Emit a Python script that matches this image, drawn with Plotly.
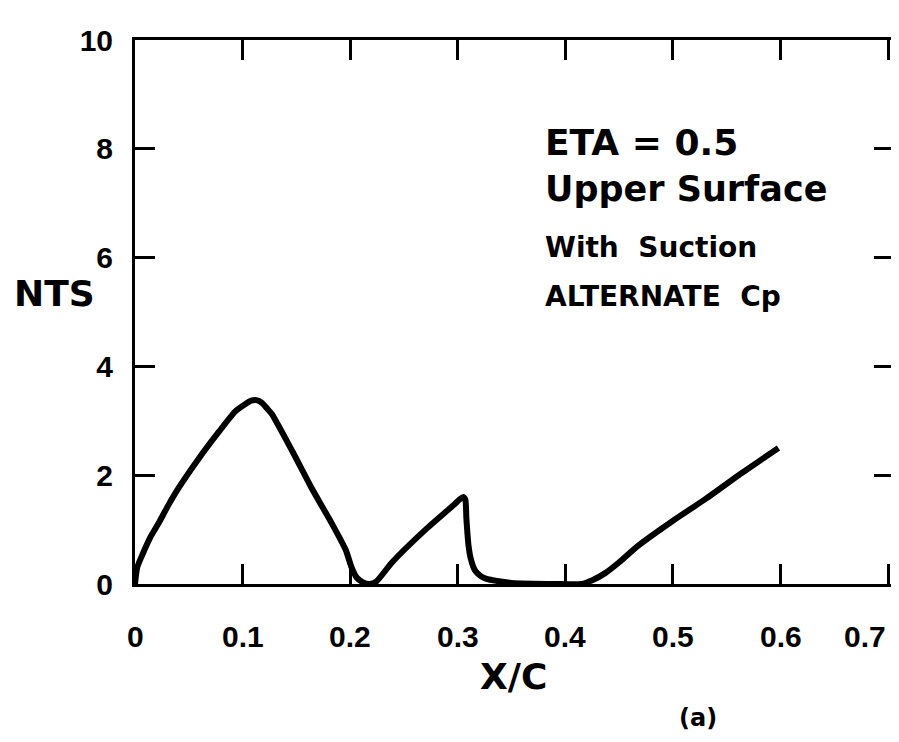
import plotly.graph_objects as go

# NTS vs X/C, upper surface, ETA = 0.5
xc = [0.0, 0.002, 0.006, 0.014, 0.022, 0.031, 0.041, 0.059, 0.078, 0.093,
      0.102, 0.108, 0.113, 0.118, 0.123, 0.127, 0.146, 0.164, 0.183, 0.196,
      0.201, 0.206, 0.212, 0.218, 0.224, 0.239, 0.270, 0.296, 0.302, 0.305,
      0.307, 0.308, 0.310, 0.312, 0.316, 0.321, 0.326, 0.338, 0.350, 0.391,
      0.415, 0.425, 0.437, 0.450, 0.468, 0.499, 0.530, 0.561, 0.598]
nts = [0.0, 0.3, 0.5, 0.85, 1.12, 1.45, 1.78, 2.3, 2.8, 3.17,
       3.3, 3.37, 3.38, 3.33, 3.22, 3.13, 2.45, 1.77, 1.11, 0.62,
       0.32, 0.12, 0.03, 0.0, 0.04, 0.4, 1.0, 1.45, 1.56, 1.6,
       1.55, 1.2, 0.7, 0.47, 0.25, 0.15, 0.1, 0.05, 0.02, 0.0,
       0.0, 0.07, 0.2, 0.4, 0.71, 1.15, 1.56, 2.0, 2.5]

xticks = [0, 0.1, 0.2, 0.3, 0.4, 0.5, 0.6, 0.7]
xlabels = ['0', '0.1', '0.2', '0.3', '0.4', '0.5', '0.6', '0.7']
yticks = [0, 2, 4, 6, 8, 10]

notes = ['ETA = 0.5', 'Upper Surface', 'With  Suction', 'ALTERNATE  Cp']
note_y = [8.12, 7.26, 6.18, 5.29]
note_size = [36, 35, 28, 28]

FONT = 'DejaVu Sans'
TICKFONT = 'Liberation Sans'

W, H = 899, 742
L, R, T, B = 127, 13, 32, 166

fig = go.Figure()
fig.add_trace(go.Scatter(x=xc, y=nts, mode='lines',
                         line=dict(color='black', width=6, shape='spline', smoothing=0.6),
                         showlegend=False))

tickfont = dict(family=TICKFONT, size=30, color='black', weight='bold')
axis_common = dict(showline=True, linecolor='black', linewidth=3, mirror='allticks',
                   ticks='inside', ticklen=20, tickwidth=3, tickcolor='black',
                   showgrid=False, zeroline=False, automargin=False,
                   tickfont=tickfont)

fig.update_xaxes(range=[0, 0.7054], tickvals=xticks, showticklabels=False,
                 **axis_common)
fig.update_yaxes(range=[0, 10], tickvals=yticks, ticklabelstandoff=13,
                 **axis_common)

# x tick labels (last one kept inside the page, as in the original)
lab_y = (H - B - 628) / (H - T - B)
for v, s in zip(xticks, xlabels):
    fig.add_annotation(x=v, y=lab_y, xref='x', yref='paper', text='<b>%s</b>' % s,
                       showarrow=False, yanchor='middle',
                       xanchor='right' if v == xticks[-1] else 'center',
                       font=tickfont)

for t, yy, sz in zip(notes, note_y, note_size):
    fig.add_annotation(x=0.379, y=yy, xref='x', yref='y', text='<b>%s</b>' % t,
                       showarrow=False, xanchor='left', yanchor='middle',
                       font=dict(family=FONT, size=sz, color='black'))


def px_note(text, px, py, size):
    fig.add_annotation(x=(px - L) / (W - L - R), y=(H - B - py) / (H - T - B),
                       xref='paper', yref='paper', text='<b>%s</b>' % text,
                       showarrow=False, xanchor='center', yanchor='middle',
                       font=dict(family=FONT, size=size, color='black'))


px_note('NTS', 46, 285, 36)
px_note('X/C', 505, 668, 36)
px_note('(a)', 690, 710, 24)

fig.update_layout(width=W, height=H, margin=dict(l=L, r=R, t=T, b=B),
                  plot_bgcolor='white', paper_bgcolor='white')

fig.write_html("out.html")
